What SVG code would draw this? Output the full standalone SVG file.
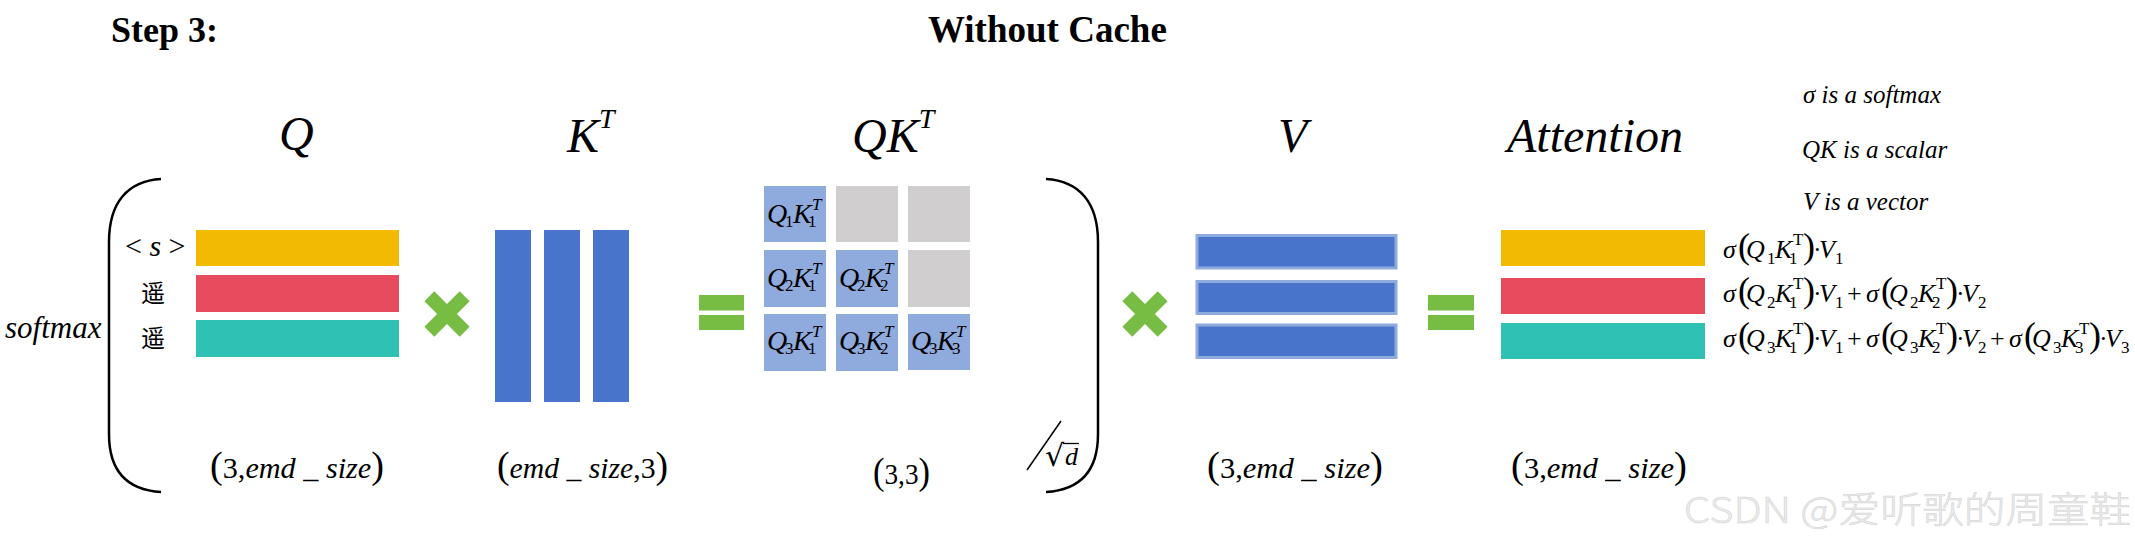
<svg xmlns="http://www.w3.org/2000/svg" width="2135" height="548" viewBox="0 0 2135 548" font-family="'Liberation Serif', 'Times New Roman', Tinos, 'DejaVu Serif', serif">
<style>
text{font-family:"Liberation Serif","Times New Roman",Tinos,"DejaVu Serif",serif;fill:#000}
.i{font-style:italic}
.n{font-style:normal}
.b{font-weight:bold}
.big{font-size:48px;font-style:italic}
.note{font-size:25px;font-style:italic}
.cell{font-size:28px;font-style:italic}
.cs{font-size:17px;font-style:normal}
.ct{font-size:17px;font-style:italic}
.f{font-size:26px}
.fp{font-size:36px;font-style:normal}
.fs{font-size:17px;font-style:normal}
.dim{font-size:30px}
.dp{font-size:38px;font-style:normal}
.yel{fill:#F2BA02}
.red{fill:#E64C5E}
.tea{fill:#30C1B5}
.blu{fill:#4874CB}
.lb{fill:#8FAADC}
.gr{fill:#D0CECE}
.vb{fill:#4874CB;stroke:#8FAADC;stroke-width:3}
.op{fill:#77BC43}
.br{fill:none;stroke:#000;stroke-width:2.5}
.cjk{font-family:"Noto Sans CJK SC",sans-serif;font-size:24px}
</style>
<defs>
<polygon id="times" points="-7,-25 7,-25 7,-7 25,-7 25,7 7,7 7,25 -7,25 -7,7 -25,7 -25,-7 -7,-7" transform="rotate(45)"/>
</defs>

<g id="titles">
<text class="b" x="111" y="42" font-size="36">Step 3:</text>
<text class="b" x="928" y="42" font-size="37">Without Cache</text>
</g>

<g id="headers">
<text class="big" x="279" y="150">Q</text>
<text class="big" x="567" y="152">K<tspan font-size="28" dy="-24">T</tspan></text>
<text class="big" x="852" y="152">QK<tspan font-size="28" dy="-24">T</tspan></text>
<text class="big" x="1278" y="152">V</text>
<text class="big" x="1507" y="152" font-size="50">Attention</text>
</g>

<g id="notes">
<text class="note" x="1803" y="103">σ is a softmax</text>
<text class="note" x="1802" y="158">QK is a scalar</text>
<text class="note" x="1803" y="210">V is a vector</text>
</g>

<g id="softmax-bracket">
<text class="i" x="5" y="338" font-size="31">softmax</text>
<path class="br" d="M161,179 C128,181 109,202 109,242 L109,434 C109,472 128,490 161,492"/>
<path class="br" d="M1046,179 C1079,181 1098,202 1098,242 L1098,434 C1098,472 1079,490 1046,492"/>
<line x1="1061" y1="421" x2="1027" y2="470" stroke="#000" stroke-width="1.5"/>
<text x="1045" y="466" font-size="30" style="font-family:'DejaVu Serif',serif">√</text>
<line x1="1063" y1="443.5" x2="1079" y2="443.5" stroke="#000" stroke-width="1.3"/>
<text class="i" x="1065" y="465" font-size="26">d</text>
</g>

<g id="matrix-Q">
<text x="125" y="256" font-size="30">&lt; <tspan class="i">s</tspan> &gt;</text>
<text class="cjk" x="141" y="302">遥</text>
<text class="cjk" x="141" y="347">遥</text>
<rect class="yel" x="196" y="230" width="203" height="36"/>
<rect class="red" x="196" y="275" width="203" height="37"/>
<rect class="tea" x="196" y="320" width="203" height="37"/>
<text class="dim" x="210" y="478" textLength="174" lengthAdjust="spacingAndGlyphs"><tspan class="dp">(</tspan>3,<tspan class="i">emd _ size</tspan><tspan class="dp">)</tspan></text>
</g>

<g id="op-times-1"><use href="#times" class="op" transform="translate(447,314)"/></g>

<g id="matrix-KT">
<rect class="blu" x="495" y="230" width="36" height="172"/>
<rect class="blu" x="544" y="230" width="36" height="172"/>
<rect class="blu" x="593" y="230" width="36" height="172"/>
<text class="dim" x="497" y="478" textLength="171" lengthAdjust="spacingAndGlyphs"><tspan class="dp">(</tspan><tspan class="i">emd _ size</tspan>,3<tspan class="dp">)</tspan></text>
</g>

<g id="op-eq-1">
<rect class="op" x="699" y="295" width="45" height="15.5"/>
<rect class="op" x="699" y="315" width="45" height="15"/>
</g>

<g id="matrix-QKT">
<rect class="lb" x="764" y="186" width="62" height="56"/>
<rect class="gr" x="836" y="186" width="62" height="56"/>
<rect class="gr" x="908" y="186" width="62" height="56"/>
<rect class="lb" x="764" y="250" width="62" height="57"/>
<rect class="lb" x="836" y="250" width="62" height="57"/>
<rect class="gr" x="908" y="250" width="62" height="57"/>
<rect class="lb" x="764" y="314" width="62" height="57"/>
<rect class="lb" x="836" y="314" width="62" height="57"/>
<rect class="lb" x="908" y="314" width="62" height="56"/>
<text class="cell" y="223"><tspan x="767">Q</tspan><tspan class="cs" x="785" y="226.5">1</tspan><tspan x="793" y="223">K</tspan><tspan class="cs" x="808" y="226.5">1</tspan><tspan class="ct" x="812" y="210">T</tspan></text>
<text class="cell" y="287"><tspan x="767">Q</tspan><tspan class="cs" x="785" y="290.5">2</tspan><tspan x="793" y="287">K</tspan><tspan class="cs" x="808" y="290.5">1</tspan><tspan class="ct" x="812" y="274">T</tspan></text>
<text class="cell" y="287"><tspan x="839">Q</tspan><tspan class="cs" x="857" y="290.5">2</tspan><tspan x="865" y="287">K</tspan><tspan class="cs" x="880" y="290.5">2</tspan><tspan class="ct" x="884" y="274">T</tspan></text>
<text class="cell" y="350"><tspan x="767">Q</tspan><tspan class="cs" x="785" y="353.5">3</tspan><tspan x="793" y="350">K</tspan><tspan class="cs" x="808" y="353.5">1</tspan><tspan class="ct" x="812" y="337">T</tspan></text>
<text class="cell" y="350"><tspan x="839">Q</tspan><tspan class="cs" x="857" y="353.5">3</tspan><tspan x="865" y="350">K</tspan><tspan class="cs" x="880" y="353.5">2</tspan><tspan class="ct" x="884" y="337">T</tspan></text>
<text class="cell" y="350"><tspan x="911">Q</tspan><tspan class="cs" x="929" y="353.5">3</tspan><tspan x="937" y="350">K</tspan><tspan class="cs" x="952" y="353.5">3</tspan><tspan class="ct" x="956" y="337">T</tspan></text>
<text class="dim" x="873" y="484" textLength="57" lengthAdjust="spacingAndGlyphs"><tspan class="dp">(</tspan>3,3<tspan class="dp">)</tspan></text>
</g>

<g id="op-times-2"><use href="#times" class="op" transform="translate(1145,314)"/></g>

<g id="matrix-V">
<rect class="vb" x="1197" y="235.5" width="199" height="32.5"/>
<rect class="vb" x="1197" y="281.5" width="199" height="32"/>
<rect class="vb" x="1197" y="325" width="199" height="32.5"/>
<text class="dim" x="1207" y="478" textLength="176" lengthAdjust="spacingAndGlyphs"><tspan class="dp">(</tspan>3,<tspan class="i">emd _ size</tspan><tspan class="dp">)</tspan></text>
</g>

<g id="op-eq-2">
<rect class="op" x="1428" y="295" width="46" height="15.5"/>
<rect class="op" x="1428" y="315" width="46" height="15"/>
</g>

<g id="matrix-Attention">
<rect class="yel" x="1501" y="230" width="204" height="36"/>
<rect class="red" x="1501" y="278" width="204" height="36"/>
<rect class="tea" x="1501" y="323" width="204" height="36"/>
<text class="dim" x="1511" y="478" textLength="176" lengthAdjust="spacingAndGlyphs"><tspan class="dp">(</tspan>3,<tspan class="i">emd _ size</tspan><tspan class="dp">)</tspan></text>
</g>

<g id="formulas">
<text class="f i" y="258"><tspan x="1723">σ</tspan><tspan class="fp" x="1738">(</tspan><tspan x="1746">Q</tspan><tspan class="fs" x="1767" y="264">1</tspan><tspan x="1775" y="258">K</tspan><tspan class="fs" x="1789" y="264">1</tspan><tspan class="fs i" x="1793" y="245">T</tspan><tspan class="fp" x="1803" y="258">)</tspan><tspan class="n" x="1813">·</tspan><tspan x="1819">V</tspan><tspan class="fs" x="1835" y="264">1</tspan></text>

<text class="f i" y="302"><tspan x="1723">σ</tspan><tspan class="fp" x="1738">(</tspan><tspan x="1746">Q</tspan><tspan class="fs" x="1767" y="308">2</tspan><tspan x="1775" y="302">K</tspan><tspan class="fs" x="1789" y="308">1</tspan><tspan class="fs i" x="1793" y="289">T</tspan><tspan class="fp" x="1803" y="302">)</tspan><tspan class="n" x="1813">·</tspan><tspan x="1819">V</tspan><tspan class="fs" x="1835" y="308">1</tspan><tspan class="n" x="1847" y="302">+</tspan><tspan x="1866">σ</tspan><tspan class="fp" x="1881">(</tspan><tspan x="1889">Q</tspan><tspan class="fs" x="1910" y="308">2</tspan><tspan x="1918" y="302">K</tspan><tspan class="fs" x="1932" y="308">2</tspan><tspan class="fs i" x="1936" y="289">T</tspan><tspan class="fp" x="1946" y="302">)</tspan><tspan class="n" x="1956">·</tspan><tspan x="1962">V</tspan><tspan class="fs" x="1978" y="308">2</tspan></text>

<text class="f i" y="347"><tspan x="1723">σ</tspan><tspan class="fp" x="1738">(</tspan><tspan x="1746">Q</tspan><tspan class="fs" x="1767" y="353">3</tspan><tspan x="1775" y="347">K</tspan><tspan class="fs" x="1789" y="353">1</tspan><tspan class="fs i" x="1793" y="334">T</tspan><tspan class="fp" x="1803" y="347">)</tspan><tspan class="n" x="1813">·</tspan><tspan x="1819">V</tspan><tspan class="fs" x="1835" y="353">1</tspan><tspan class="n" x="1847" y="347">+</tspan><tspan x="1866">σ</tspan><tspan class="fp" x="1881">(</tspan><tspan x="1889">Q</tspan><tspan class="fs" x="1910" y="353">3</tspan><tspan x="1918" y="347">K</tspan><tspan class="fs" x="1932" y="353">2</tspan><tspan class="fs i" x="1936" y="334">T</tspan><tspan class="fp" x="1946" y="347">)</tspan><tspan class="n" x="1956">·</tspan><tspan x="1962">V</tspan><tspan class="fs" x="1978" y="353">2</tspan><tspan class="n" x="1990" y="347">+</tspan><tspan x="2009">σ</tspan><tspan class="fp" x="2024">(</tspan><tspan x="2032">Q</tspan><tspan class="fs" x="2053" y="353">3</tspan><tspan x="2061" y="347">K</tspan><tspan class="fs" x="2075" y="353">3</tspan><tspan class="fs i" x="2079" y="334">T</tspan><tspan class="fp" x="2089" y="347">)</tspan><tspan class="n" x="2099">·</tspan><tspan x="2105">V</tspan><tspan class="fs" x="2121" y="353">3</tspan></text>
</g>

<g id="connectors"></g>

<g id="watermark">
<text x="1684" y="523" font-size="36" textLength="447" lengthAdjust="spacingAndGlyphs" style="font-family:'Noto Sans CJK SC',sans-serif;font-weight:300;fill:#ECECEC;stroke:#D2D2D2;stroke-width:0.5">CSDN @爱听歌的周童鞋</text>
</g>
</svg>
